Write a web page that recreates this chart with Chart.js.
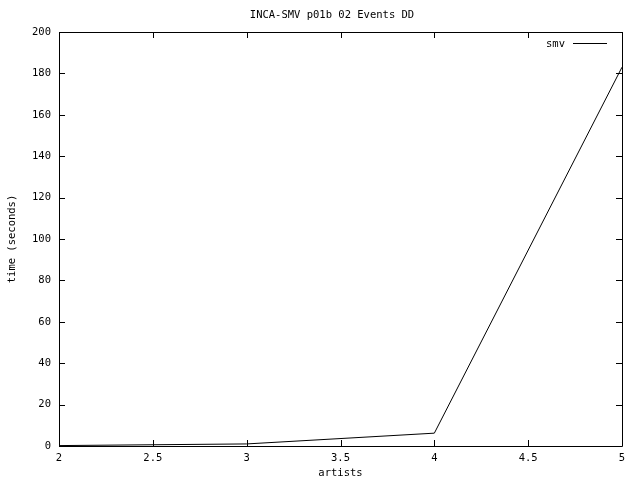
<!DOCTYPE html>
<html>
<head>
<meta charset="utf-8">
<script src="https://cdn.jsdelivr.net/npm/chart.js@4"></script>
<style>
  html, body { margin: 0; padding: 0; background: #fff; }
  #wrap { width: 640px; height: 480px; }
</style>
</head>
<body>
<div id="wrap"><canvas id="grafico"></canvas></div>
<script>
// dados
var artistas = [2, 3, 4, 5];
var tempoSmv = [0.2, 1.0, 6.2, 183];
var ticksX = [2, 2.5, 3, 3.5, 4, 4.5, 5];
var ticksY = [0, 20, 40, 60, 80, 100, 120, 140, 160, 180, 200];
var titulo = 'INCA-SMV p01b 02 Events DD';

var fonte = { family: "'DejaVu Sans Mono', monospace", size: 10.5 };

var pontos = [];
for (let i = 0; i < artistas.length; i++) {
    pontos.push({ x: artistas[i], y: tempoSmv[i] });
}

// moldura com ticks para dentro (estilo gnuplot) + legenda + titulo
const molduraPlugin = {
    id: 'moldura',
    afterDatasetsDraw(chart) {
        const ctx = chart.ctx;
        const a = chart.chartArea;
        const sx = chart.scales.x;
        const sy = chart.scales.y;
        ctx.save();
        ctx.strokeStyle = '#000';
        ctx.lineWidth = 1;
        ctx.beginPath();
        ctx.rect(Math.round(a.left) + 0.5, Math.round(a.top) + 0.5,
            Math.round(a.right - a.left), Math.round(a.bottom - a.top));
        ticksX.forEach(function (v) {
            const px = Math.round(sx.getPixelForValue(v)) + 0.5;
            ctx.moveTo(px, a.bottom); ctx.lineTo(px, a.bottom - 6);
            ctx.moveTo(px, a.top); ctx.lineTo(px, a.top + 6);
        });
        ticksY.forEach(function (v) {
            const py = Math.round(sy.getPixelForValue(v)) + 0.5;
            ctx.moveTo(a.left, py); ctx.lineTo(a.left + 6, py);
            ctx.moveTo(a.right, py); ctx.lineTo(a.right - 6, py);
        });
        ctx.stroke();

        ctx.font = fonte.size + 'px ' + fonte.family;
        ctx.fillStyle = '#000';
        ctx.textBaseline = 'middle';

        // titulo
        ctx.textAlign = 'center';
        ctx.fillText(titulo, 332, 15);

        // legenda
        const label = chart.data.datasets[0].label;
        ctx.textAlign = 'right';
        ctx.fillText(label, a.right - 57, a.top + 12);
        ctx.beginPath();
        ctx.moveTo(a.right - 49, a.top + 11.5);
        ctx.lineTo(a.right - 15, a.top + 11.5);
        ctx.stroke();
        ctx.restore();
    }
};

const config = {
    type: 'line',
    data: {
        datasets: [{
            label: 'smv',
            data: pontos,
            borderColor: '#000',
            borderWidth: 1,
            pointRadius: 0,
            fill: false,
            tension: 0
        }]
    },
    options: {
        responsive: false,
        animation: false,
        devicePixelRatio: 1,
        layout: { padding: { left: 0, right: 18, top: 32, bottom: 0 } },
        plugins: {
            legend: { display: false },
            tooltip: { enabled: false },
            title: { display: false }
        },
        scales: {
            x: {
                type: 'linear',
                min: 2,
                max: 5,
                grid: { display: false, drawTicks: false },
                border: { display: false },
                afterBuildTicks: function (s) { s.ticks = ticksX.map(function (v) { return { value: v }; }); },
                afterFit: function (s) { s.height = 34; },
                ticks: {
                    color: '#000', font: fonte, padding: 6, maxRotation: 0, autoSkip: false,
                    callback: function (v) { return String(v); }
                },
                title: { display: true, text: 'artists', color: '#000', font: fonte, padding: { top: 0, bottom: 0 } }
            },
            y: {
                min: 0,
                max: 200,
                grid: { display: false, drawTicks: false },
                border: { display: false },
                afterBuildTicks: function (s) { s.ticks = ticksY.map(function (v) { return { value: v }; }); },
                afterFit: function (s) { s.width = 59; },
                ticks: { color: '#000', font: fonte, padding: 8, autoSkip: false },
                title: { display: true, text: 'time (seconds)', color: '#000', font: fonte, padding: { top: 6, bottom: 0 } }
            }
        }
    },
    plugins: [molduraPlugin]
};

const canvas = document.getElementById('grafico');
canvas.width = 640;
canvas.height = 480;
let myChart = new Chart(canvas, config);
</script>
</body>
</html>
